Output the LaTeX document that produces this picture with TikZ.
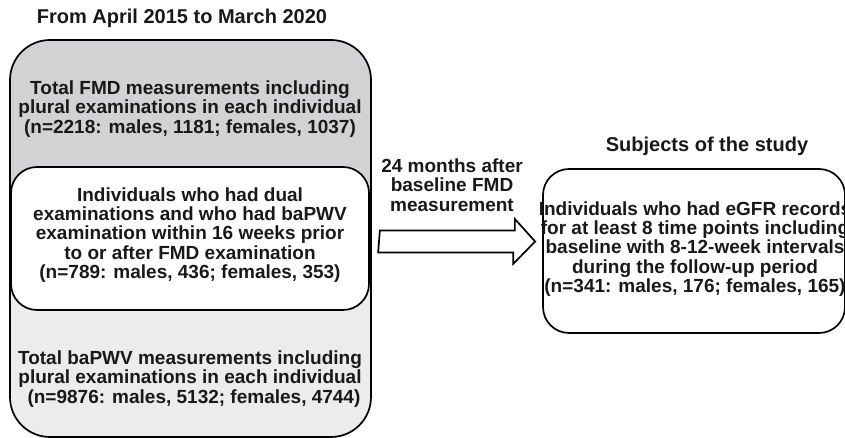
\documentclass[tikz,border=0pt]{standalone}
\usepackage{fontspec}
\setmainfont{Liberation Sans}
\definecolor{topgray}{RGB}{210,210,212}
\definecolor{lowgray}{RGB}{236,236,236}
\definecolor{ink}{RGB}{25,25,25}
\begin{document}
\begin{tikzpicture}[x=1pt,y=1pt,
  every node/.style={text=ink,font=\bfseries\fontsize{19}{19.3}\selectfont,align=center,inner sep=0pt},
  frame/.style={draw=black,line width=1.7pt},
  titletext/.style={font=\bfseries\fontsize{20}{22}\selectfont}]
\useasboundingbox (0,0) rectangle (845,438);
% outer two-tone box
\node[frame,rounded corners=40pt,minimum width=361pt,minimum height=397pt,
  path picture={
    \fill[topgray] (path picture bounding box.north west) rectangle (path picture bounding box.east);
    \fill[lowgray] (path picture bounding box.south west) rectangle (path picture bounding box.east);
  }] (outer) at (190.5,199.5) {};
\node[titletext] (title1) at (182,420) {From April 2015 to March 2020};
\node (fmd) at (190,329) {Total FMD measurements including\\plural examinations in each individual\\(n=2218: males, 1181; females, 1037)};
\node[frame,fill=white,rounded corners=26pt,minimum width=358pt,minimum height=143pt] (dual) at (190,199.5) {};
\node (dualtext) at (190,203) {Individuals who had dual\\examinations and who had baPWV\\examination within 16 weeks prior\\to or after FMD examination\\(n=789: males, 436; females, 353)};
\node (pwv) at (190,59) {Total baPWV measurements including\\plural examinations in each individual\\\hspace*{8pt}(n=9876: males, 5132; females, 4744)};
% arrow
\node (alabel) at (452,253) {24 months after\\baseline FMD\\measurement};
\node[frame,rounded corners=26pt,minimum width=302pt,minimum height=164pt] (subj) at (694,187) {};
\node[titletext] (title2) at (707,292) {Subjects of the study};
\node (subjtext) at (695,189) {Individuals who had eGFR records\\for at least 8 time points including\\baseline with 8-12-week intervals\\during the follow-up period\\(n=341: males, 176; females, 165)};
\coordinate (atail) at ([xshift=8pt]outer.east |- 0,196.5);
\coordinate (atip) at ([xshift=-7pt]subj.west |- 0,196.5);
\draw[frame,fill=white,line join=miter] (atail) ++(0,11) -- ++(135,0) -- ++(0,11.5) -- (atip) -- ++(-22,-22.5) -- ++(0,11.5) -- ++(-135,0) -- cycle;
\end{tikzpicture}
\end{document}
